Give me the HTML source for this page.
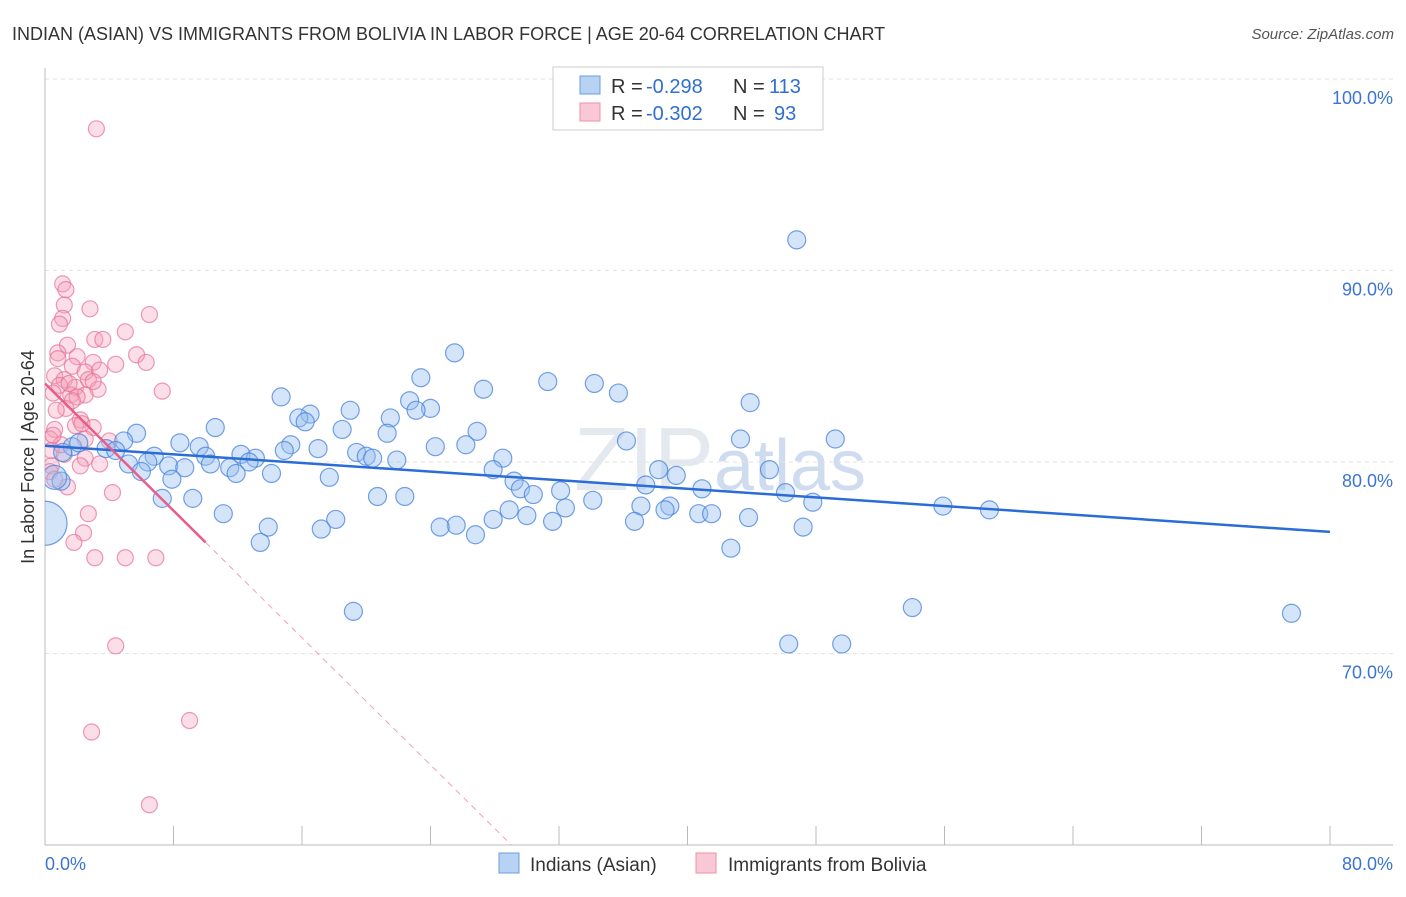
<!DOCTYPE html>
<html><head><meta charset="utf-8"><style>
body{margin:0;background:#fff;font-family:"Liberation Sans",sans-serif}
svg text{font-family:"Liberation Sans",sans-serif}
</style></head><body>
<svg id="c" width="1406" height="892">
<defs><clipPath id="plot"><rect x="45" y="60" width="1360" height="785"/></clipPath></defs>
<text x="12" y="40" font-size="18" fill="#333">INDIAN (ASIAN) VS IMMIGRANTS FROM BOLIVIA IN LABOR FORCE | AGE 20-64 CORRELATION CHART</text>
<text x="1394" y="39" font-size="15" fill="#555" text-anchor="end" font-style="italic">Source: ZipAtlas.com</text>
<text x="720" y="490" font-size="90" fill="#e4e8ef" text-anchor="middle" font-family="Liberation Serif">ZIP<tspan fill="#cfdcf0" font-family="Liberation Sans" font-size="72">atlas</tspan></text>
<g id="grid"></g><g id="axes"></g>
<g id="pink" clip-path="url(#plot)"></g><g id="blue" clip-path="url(#plot)"></g><g id="trends"></g>
<text transform="translate(34,457) rotate(-90)" font-size="18" fill="#333" text-anchor="middle">In Labor Force | Age 20-64</text>
<g>
<rect x="553" y="67" width="270" height="63" fill="#fff" stroke="#ccc"/>
<rect x="580" y="76" width="20" height="18" fill="#b8d2f4" stroke="#6a9de0"/>
<rect x="580" y="103" width="20" height="18" fill="#f9c8d6" stroke="#ee8fab"/>
<text x="611" y="93" font-size="20" fill="#333">R =</text><text x="646" y="93" font-size="20" fill="#2f6fd0">-0.298</text>
<text x="733" y="93" font-size="20" fill="#333">N =</text><text x="769" y="93" font-size="20" fill="#2f6fd0">113</text>
<text x="611" y="120" font-size="20" fill="#333">R =</text><text x="646" y="120" font-size="20" fill="#2f6fd0">-0.302</text>
<text x="733" y="120" font-size="20" fill="#333">N =</text><text x="774" y="120" font-size="20" fill="#2f6fd0">93</text>
</g>
<g>
<rect x="499" y="853" width="20" height="20" fill="#b8d2f4" stroke="#6a9de0"/>
<text x="530" y="871" font-size="19" fill="#333">Indians (Asian)</text>
<rect x="696" y="853" width="20" height="20" fill="#f9c8d6" stroke="#ee8fab"/>
<text x="728" y="871" font-size="19" fill="#333">Immigrants from Bolivia</text>
</g>
</svg>
<script>
const yTicks=[100,90,80,70];
const yTickLabels=["100.0%","90.0%","80.0%","70.0%"];
const xTickLabels=["0.0%","80.0%"];
const blueX=[46.8,25.5,23.4,31.3,34.2,27.3,35.7,14.7,22.7,43.9,19.0,24.0,23.1,16.5,15.8,21.5,16.2,10.6,18.5,26.9,5.7,21.3,36.2,43.3,49.2,4.9,8.4,15.3,26.2,1.7,3.8,9.6,17.0,24.3,14.9,2.1,1.1,4.4,6.8,12.2,19.4,20.0,10.0,20.4,21.9,28.5,13.1,5.2,6.4,7.7,8.7,10.3,11.5,12.7,27.9,38.2,45.1,6.0,11.9,14.1,39.3,17.7,7.9,29.2,37.4,29.6,1.0,32.1,40.9,30.4,46.1,20.7,22.4,9.2,7.3,34.1,47.8,32.4,37.1,38.9,55.9,58.8,28.9,30.0,38.6,40.7,41.5,11.1,43.8,18.1,27.9,31.6,36.7,25.6,13.9,24.6,47.2,17.2,26.8,13.4,42.7,54.0,19.2,77.6,46.3,49.6,0,0.6];
const blueY=[91.6,85.7,84.4,84.2,84.1,83.8,83.6,83.4,83.2,83.1,82.7,82.8,82.7,82.5,82.3,82.3,82.1,81.8,81.7,81.6,81.5,81.5,81.1,81.2,81.2,81.1,81.0,80.9,80.9,80.8,80.7,80.8,80.7,80.8,80.6,81.0,80.5,80.6,80.3,80.4,80.5,80.3,80.3,80.2,80.1,80.2,80.2,79.9,80.0,79.8,79.7,79.9,79.7,80.0,79.6,79.6,79.6,79.5,79.4,79.4,79.3,79.2,79.1,79.0,78.8,78.6,79.0,78.5,78.6,78.3,78.4,78.2,78.2,78.1,78.1,78.0,77.9,77.6,77.7,77.7,77.7,77.5,77.5,77.2,77.5,77.3,77.3,77.3,77.1,77.0,77.0,76.9,76.9,76.7,76.6,76.6,76.6,76.5,76.2,75.8,75.5,72.4,72.2,72.1,70.5,70.5,76.8,79.2];
const blueSize=blueX.map((v,i)=>i==blueX.length-2?22:(i==blueX.length-1?12:9));
const pinkX=[3.2,1.1,1.3,1.2,2.8,6.5,1.1,0.9,5.0,3.1,3.6,1.4,0.8,5.7,2.0,3.0,6.3,4.4,1.7,2.5,3.4,0.6,1.2,2.7,0.9,1.9,3.3,7.3,0.5,1.6,2.5,1.3,0.7,2.2,1.9,3.0,0.6,0.3,2.5,4.0,0.4,1.2,2.5,0.4,3.4,2.2,0.3,0.6,1.4,4.2,2.7,2.4,1.8,3.1,5.0,6.9,4.4,9.0,2.9,6.5,1.5,2.0,0.8,1.7,2.3,3.0,1.0,0.5];
const pinkY=[97.4,89.3,89.0,88.2,88.0,87.7,87.5,87.2,86.8,86.4,86.4,86.1,85.7,85.6,85.5,85.2,85.2,85.1,85.0,84.7,84.8,84.5,84.3,84.3,84.0,83.9,83.8,83.7,83.6,83.5,83.5,82.8,82.7,82.2,81.9,81.8,81.7,81.2,81.2,81.1,80.6,80.4,80.2,79.8,79.9,79.8,79.5,79.1,78.7,78.4,77.3,76.3,75.8,75.0,75.0,75.0,70.4,66.5,65.9,62.1,84.1,83.4,85.4,83.2,82.0,84.2,80.9,81.4];
const blueTrend=[80.85,76.35];
const pinkTrend=[84.1,-0.83];
const NS="http://www.w3.org/2000/svg";
const X=v=>45+v*(1285/80), Y=v=>79+(100-v)*19.15;
function mk(t,a,p){const e=document.createElementNS(NS,t);for(const k in a)e.setAttribute(k,a[k]);document.getElementById(p).appendChild(e);return e;}
yTicks.forEach((t,i)=>{
 const l=mk('line',{x1:45,x2:1393,y1:Y(t),y2:Y(t),stroke:'#e2e2e2','stroke-dasharray':'4,4'},'grid');
 
 
 const tx=mk('text',{x:1393,y:Y(t)+25,'font-size':18,fill:'#3b74d4','text-anchor':'end'},'axes');tx.textContent=yTickLabels[i];
 
 
});
const ax=mk('line',{x1:45,x2:1393,y1:845,y2:845,stroke:'#bbb'},'axes');


const ay=mk('line',{x1:45,x2:45,y1:68,y2:845,stroke:'#bbb'},'axes');


for(let i=0;i<=10;i++){const t=mk('line',{x1:X(i*8),x2:X(i*8),y1:826,y2:845,stroke:'#bbb'},'axes');
 
 }
[[0,'start',45],[80,'end',1393]].forEach((d,i)=>{const t=mk('text',{x:d[2],y:870,'font-size':18,fill:'#3b74d4','text-anchor':d[1]},'axes');t.textContent=xTickLabels[i];
 
 });
pinkX.forEach((x,i)=>{const c=mk('circle',{cx:X(x),cy:Y(pinkY[i]),r:8,fill:'rgba(244,160,185,0.35)',stroke:'rgba(232,110,150,0.7)','stroke-width':1.2},'pink');
 
 });
blueX.forEach((x,i)=>{const c=mk('circle',{cx:X(x),cy:Y(blueY[i]),r:blueSize[i],fill:'rgba(150,190,240,0.4)',stroke:'rgba(70,130,220,0.75)','stroke-width':1.2},'blue');
 
 });
const bt=mk('line',{x1:X(0),y1:Y(blueTrend[0]),x2:X(80),y2:Y(blueTrend[1]),stroke:'#2a6dd6','stroke-width':2.5},'trends');


const pe=(60-pinkTrend[0])/pinkTrend[1];
const pd=mk('line',{x1:X(10),y1:Y(pinkTrend[0]+pinkTrend[1]*10),x2:X(pe),y2:Y(60),stroke:'#f0a0b8','stroke-width':1,'stroke-dasharray':'6,5'},'trends');


const pt=mk('line',{x1:X(0),y1:Y(pinkTrend[0]),x2:X(10),y2:Y(pinkTrend[0]+pinkTrend[1]*10),stroke:'#e85d8a','stroke-width':2.5},'trends');


</script>
</body></html>
